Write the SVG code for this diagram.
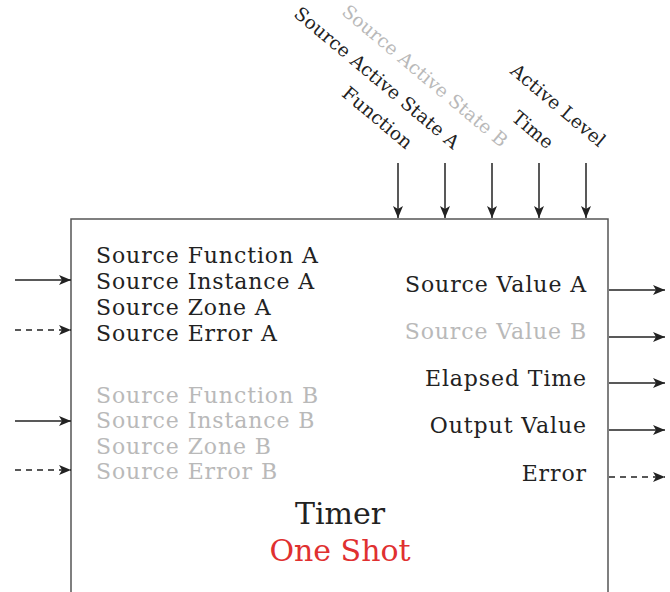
<svg xmlns="http://www.w3.org/2000/svg" width="670" height="592" viewBox="0 0 670 592">
<style>
  text { font-family: "DejaVu Serif", "Liberation Serif", serif; font-size: 22px; letter-spacing: 0.9px; fill: #222; }
  .g { fill: #b9b9b9; }
  .r { text-anchor: end; }
  .rot { font-size: 18.5px; letter-spacing: 0.2px; }
  .big { font-size: 30px; letter-spacing: 0; text-anchor: middle; }
  .red { fill: #e03030; }
  .ln { stroke: #222; stroke-width: 1.5; fill: none; }
  .d { stroke-dasharray: 6 5; }
</style>
<defs>
  <marker id="ah" viewBox="0 0 12 10" refX="12" refY="5" markerWidth="12" markerHeight="10" markerUnits="userSpaceOnUse" orient="auto">
    <path d="M0,0 L12,5 L0,10 L3,5 z" fill="#222"/>
  </marker>
</defs>
<g id="timer">
  <path d="M71,600 V219 H608 V600" fill="#fff" stroke="#555" stroke-width="1.5"/>
  <text x="96" y="263">Source Function A</text>
  <text x="96" y="289">Source Instance A</text>
  <text x="96" y="315">Source Zone A</text>
  <text x="96" y="341">Source Error A</text>
  <text class="g" x="96" y="403">Source Function B</text>
  <text class="g" x="96" y="428">Source Instance B</text>
  <text class="g" x="96" y="454">Source Zone B</text>
  <text class="g" x="96" y="479">Source Error B</text>
  <text class="r" x="587" y="292">Source Value A</text>
  <text class="r g" x="587" y="339">Source Value B</text>
  <text class="r" x="587" y="386">Elapsed Time</text>
  <text class="r" x="587" y="433">Output Value</text>
  <text class="r" x="587" y="481">Error</text>
  <text class="big" x="340" y="524">Timer</text>
  <text class="big red" x="340" y="561">One Shot</text>
</g>
<g id="top-labels">
  <text class="r rot" transform="translate(406,150) rotate(40)">Function</text>
  <text class="r rot" transform="translate(453,150) rotate(40)">Source Active State A</text>
  <text class="r rot g" transform="translate(501,148) rotate(40)">Source Active State B</text>
  <text class="r rot" transform="translate(547,150) rotate(40)">Time</text>
  <text class="r rot" transform="translate(599,148) rotate(40)">Active Level</text>
</g>
<g id="connectors">
  <line class="ln" x1="398" y1="163" x2="398" y2="218" marker-end="url(#ah)"/>
  <line class="ln" x1="445" y1="163" x2="445" y2="218" marker-end="url(#ah)"/>
  <line class="ln" x1="492" y1="163" x2="492" y2="218" marker-end="url(#ah)"/>
  <line class="ln" x1="539" y1="163" x2="539" y2="218" marker-end="url(#ah)"/>
  <line class="ln" x1="586" y1="163" x2="586" y2="218" marker-end="url(#ah)"/>
  <line class="ln" x1="15" y1="280" x2="71" y2="280" marker-end="url(#ah)"/>
  <line class="ln d" x1="15" y1="330" x2="71" y2="330" marker-end="url(#ah)"/>
  <line class="ln" x1="15" y1="421" x2="71" y2="421" marker-end="url(#ah)"/>
  <line class="ln d" x1="15" y1="470" x2="71" y2="470" marker-end="url(#ah)"/>
  <line class="ln" x1="609" y1="290" x2="665" y2="290" marker-end="url(#ah)"/>
  <line class="ln" x1="609" y1="337" x2="665" y2="337" marker-end="url(#ah)"/>
  <line class="ln" x1="609" y1="383" x2="665" y2="383" marker-end="url(#ah)"/>
  <line class="ln" x1="609" y1="430" x2="665" y2="430" marker-end="url(#ah)"/>
  <line class="ln d" x1="609" y1="477" x2="665" y2="477" marker-end="url(#ah)"/>
</g>
</svg>
